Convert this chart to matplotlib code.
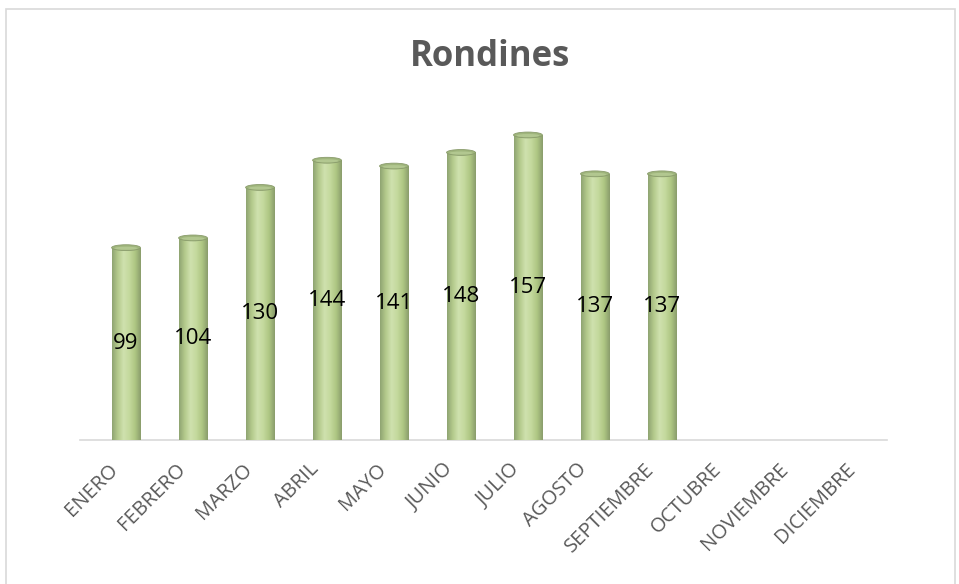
import matplotlib.pyplot as plt
import matplotlib.transforms as mtrans
import numpy as np
from matplotlib.colors import LinearSegmentedColormap
from matplotlib.patches import Ellipse, Rectangle

plt.rcParams['font.family'] = ['Open Sans', 'DejaVu Sans']

# datos del gráfico
meses = ["ENERO", "FEBRERO", "MARZO", "ABRIL", "MAYO", "JUNIO", "JULIO",
         "AGOSTO", "SEPTIEMBRE", "OCTUBRE", "NOVIEMBRE", "DICIEMBRE"]
valores = [99, 104, 130, 144, 141, 148, 157, 137, 137]

fig = plt.figure(figsize=(9.59, 5.84), dpi=100)
ax = fig.add_axes([80 / 959, 144 / 584, 807 / 959, 340 / 584])

# marco del gráfico
fig.patches.append(Rectangle((6 / 959, -0.01), 949 / 959, 1 - 9 / 584 + 0.01,
                             transform=fig.transFigure, fill=False,
                             edgecolor="#d9d9d9", lw=1.2))

ancho = 0.43
cmap = LinearSegmentedColormap.from_list(
    "cil", ["#8fa472", "#b4ca8c", "#cfe1ae", "#c4d99d", "#aec683", "#8a9d6c"])
grad = np.linspace(0, 1, 200).reshape(1, -1)

x = np.arange(len(valores))
bars = ax.bar(x, valores, width=ancho, color="#bcd295", zorder=2)
for b, v in zip(bars, valores):
    x0 = b.get_x()
    img = ax.imshow(grad, cmap=cmap, aspect="auto",
                    extent=(x0, x0 + ancho, 0, v), zorder=3)
    img.set_clip_path(b)
    ax.add_patch(Ellipse((x0 + ancho / 2, v), ancho, 3.0,
                         facecolor="#9fb57c", edgecolor="#8a9c6c", lw=0.6, zorder=4))
    ax.add_patch(Ellipse((x0 + ancho / 2, v - 0.3), ancho * 0.8, 1.6,
                         facecolor="#b2c790", edgecolor="none", zorder=4))
    ax.text(x0 + ancho / 2, v / 2, str(v), ha="center", va="center",
            fontsize=16, color="black", zorder=5)

ax.set_xlim(-0.687, 11.36)
ax.set_ylim(0, 175)
ax.set_xticks(range(len(meses)))
ax.set_xticklabels(meses, rotation=45, ha="right", rotation_mode="anchor",
                   fontsize=14.5, color="#595959")
ax.tick_params(axis="x", length=0, pad=14)
desplaz = mtrans.ScaledTranslation(-18 / 100, 0, fig.dpi_scale_trans)
for lbl in ax.get_xticklabels():
    lbl.set_transform(lbl.get_transform() + desplaz)
ax.set_yticks([])
for s in ["top", "left", "right"]:
    ax.spines[s].set_visible(False)
ax.spines["bottom"].set_color("#d9d9d9")
ax.spines["bottom"].set_linewidth(1.2)

fig.text(490 / 959, 1 - 57 / 584, "Rondines", ha="center", va="center",
         fontsize=25, fontweight="bold", color="#595959")

fig.savefig("out.png", dpi=100)
